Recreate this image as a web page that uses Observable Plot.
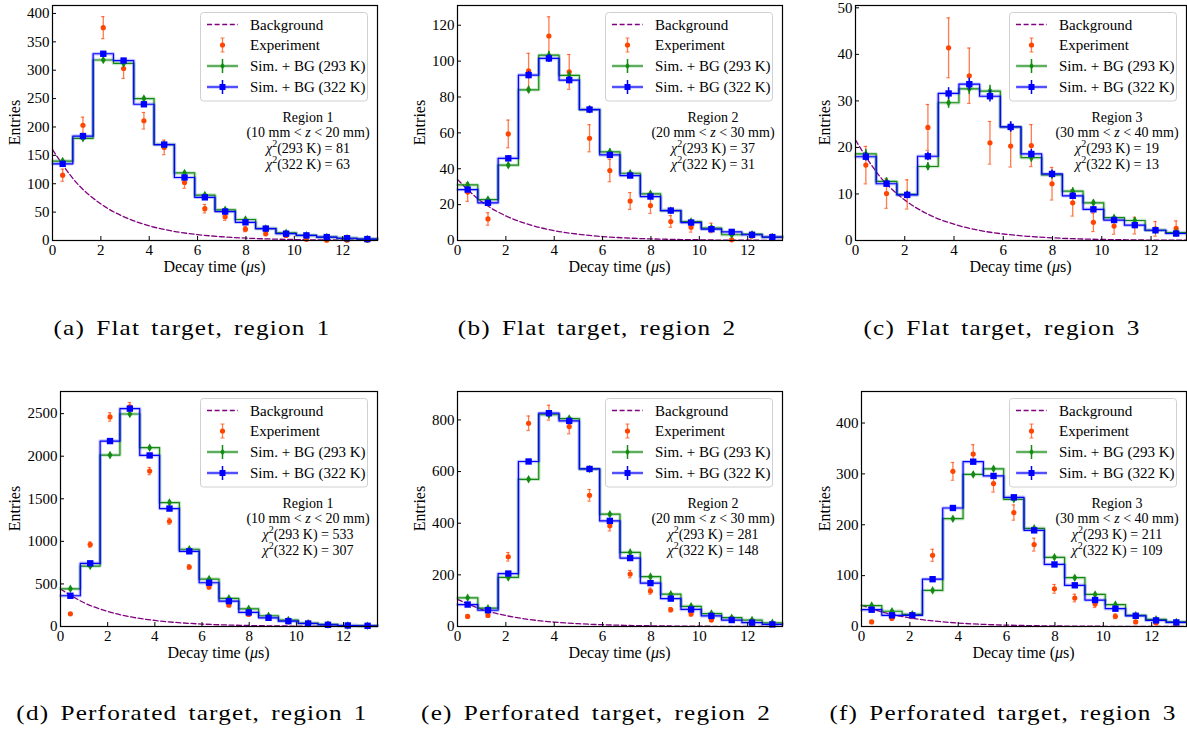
<!DOCTYPE html>
<html><head><meta charset="utf-8">
<script src="https://cdn.jsdelivr.net/npm/d3@7"></script>
<script src="https://cdn.jsdelivr.net/npm/@observablehq/plot@0.6"></script>
<style>
body{margin:0;background:#fff;overflow:hidden}
#wrap{position:relative;width:1187px;height:732px;overflow:hidden;background:#fff}
.panel{position:absolute;overflow:visible}
.cap{position:absolute;font-family:"Liberation Serif","DejaVu Serif",serif;font-size:21px;white-space:nowrap;transform:translate(-50%,-50%) scaleX(1.2);line-height:22px;letter-spacing:1px;word-spacing:3px;color:#000}
</style></head><body><div id="wrap"></div>
<script>
// ---------- data ----------
const binCenters = [0.42,1.26,2.10,2.94,3.78,4.62,5.46,6.30,7.14,7.98,8.82,9.66,10.50,11.34,12.18,13.02];
const binWidth = 0.84;
const xMax = 13.44;
const xTicks = [0,2,4,6,8,10,12];
const bgTimes = [0,1,2,3,4,5,6,7,8,9,10,11,12,13,13.44];

// (a) Flat target, region 1
const expA    = [115,203,375,303,211,164,102,56,42,20,12,9,2,0.5,0.5,0.5];
const sim293A = [140,180,318,312,250,169,119,80,54,37,21,13.5,9,6,4,2.5];
const sim322A = [135,184,329,317,240,169,111,76,51,32,21,12,9,6,4,2.5];
const bgA     = [160,101.5,64.4,40.9,25.9,16.4,10.4,6.6,4.2,2.7,1.7,1.1,0.7,0.4,0.35];
// (b) Flat target, region 2
const expB    = [27,12,59.4,94.6,114,94,57,39,22,19.5,10.6,7.4,7,0.4,2.8,2];
const sim293B = [31,22.8,42,84,103.3,92,73,49.4,37.5,26,16.7,10.6,6.9,3.2,3.5,1.9];
const sim322B = [28.4,21,45.8,92.2,101.5,89.4,73,47.7,36.2,24.5,16.7,10,6.3,4.8,3.2,1.9];
const bgB     = [34,21.6,13.7,8.7,5.5,3.5,2.2,1.4,0.9,0.6,0.4,0.2,0.15,0.1,0.08];
// (c) Flat target, region 3
const expC    = [16.2,10.1,9.9,24.3,41.4,35.4,21,20.3,20.4,12.2,8.1,3.9,3.1,3.2,2.5,2.6];
const sim293C = [18.6,12.7,9.9,15.9,29.6,32.6,32.1,24.4,17.8,14.1,10.6,8.1,4.9,4.3,2.2,1.7];
const sim322C = [18,12.2,9.8,18.1,31.6,33.6,31,24.4,18.6,14.3,9.6,6.7,4.4,3.3,2.2,1.5];
const bgC     = [21.6,13.7,8.7,5.5,3.5,2.2,1.4,0.9,0.57,0.36,0.23,0.15,0.09,0.06,0.05];
// (d) Perforated target, region 1
const expD    = [149,962,2461,2580,1825,1236,699,463,251,141,98,55,39,12,10,6];
const sim293D = [443,710,2013,2496,2100,1456,907,557,330,208,126,75,39,24,12,8];
const sim322D = [361,742,2178,2559,2009,1385,883,514,298,165,102,63,35,20,12,8];
const bgD     = [440,279,177,112,71,45,29,18,11.6,7.4,4.7,3.0,1.9,1.2,1.0];
// (e) Perforated target, region 2
const expE    = [39,43,270,787,828,774,508,390,203,137,65,48,25,31,12,8];
const sim293E = [111,71,190,570,820,805,610,435,287,193,125,78,50,34,25,14];
const sim322E = [85,63,205,639,826,796,610,409,265,168,108,66,41,25,15,8];
const bgE     = [105,66.6,42.3,26.8,17,10.8,6.9,4.3,2.8,1.7,1.1,0.7,0.45,0.3,0.25];
// (f) Perforated target, region 3
const expF    = [9,16,20,140,305,339,281,224,161,74,56,44,20,9,7,4];
const sim293F = [41,30,24,71,212,299,310,250,193,136,96,63,43,22,14,9];
const sim322F = [33,22,22,93,233,324,296,254,189,122,81,52,35,21,12,8];
const bgF     = [42,26.6,16.9,10.7,6.8,4.3,2.7,1.7,1.1,0.7,0.44,0.28,0.18,0.11,0.09];

const yMaxes = [414,131,50.5,2760,910,462];
const yTickSets = [
  [0,50,100,150,200,250,300,350,400],
  [0,20,40,60,80,100,120],
  [0,10,20,30,40,50],
  [0,500,1000,1500,2000,2500],
  [0,200,400,600,800],
  [0,100,200,300,400]
];
const captions = [
  "(a) Flat target, region 1","(b) Flat target, region 2","(c) Flat target, region 3",
  "(d) Perforated target, region 1","(e) Perforated target, region 2","(f) Perforated target, region 3"
];
const regionNames = ["Region 1","Region 2","Region 3","Region 1","Region 2","Region 3"];
const zLow  = [10,20,30,10,20,30];
const zHigh = [20,30,40,20,30,40];
const chi293 = [81,37,19,533,281,211];
const chi322 = [63,31,13,307,148,109];
const legendLabels = ["Background","Experiment","Sim. + BG (293 K)","Sim. + BG (322 K)"];

const expSeries = [expA,expB,expC,expD,expE,expF];
const sim293Series = [sim293A,sim293B,sim293C,sim293D,sim293E,sim293F];
const sim322Series = [sim322A,sim322B,sim322C,sim322D,sim322E,sim322F];
const bgSeries = [bgA,bgB,bgC,bgD,bgE,bgF];

// ---------- layout / style ----------
const FONT = "'Liberation Serif', 'DejaVu Serif', serif";
const cExp = "#ff4500", cG = "#138a13", cB = "#0000ff", cBg = "#800080";
const layout = [
  {left:52, top:5, w:325, h:235, ylab:37},
  {left:457, top:5, w:325, h:235, ylab:37},
  {left:855, top:5, w:331, h:235, ylab:30},
  {left:60, top:391, w:317, h:235, ylab:45},
  {left:457, top:391, w:325, h:235, ylab:37},
  {left:861, top:391, w:325, h:235, ylab:36}
];
const capPos = [{x:191.5,y:328},{x:597,y:328},{x:1002,y:328},{x:192,y:713},{x:596,y:713},{x:1003,y:713}];
const simErrFactor = 0.22;

const wrap = document.getElementById("wrap");

function makePanel(k) {
  const L = layout[k];
  const ml = 60, mt = 6, mr = 14, mb = 52;
  const rows = binCenters.map((t,i) => ({t, exp: expSeries[k][i], s293: sim293Series[k][i], s322: sim322Series[k][i]}));
  const steps = v => binCenters.map((t,i) => ({x: t - binWidth/2, y: v[i]})).concat([{x: binCenters[binCenters.length-1] + binWidth/2, y: v[v.length-1]}]);
  const bgRows = bgTimes.map((t,i) => ({t, v: bgSeries[k][i]}));
  const eE = d => Math.sqrt(d.exp);
  const e2 = d => Math.sqrt(d.s293)*simErrFactor;
  const e3 = d => Math.sqrt(d.s322)*simErrFactor;
  const cap = 0.07;
  const st293 = steps(sim293Series[k]), st322 = steps(sim322Series[k]);
  const fmt = d => String(d);

  const svg = Plot.plot({
    width: ml + L.w + mr, height: mt + L.h + mb,
    marginLeft: ml, marginTop: mt, marginRight: mr, marginBottom: mb,
    x: {domain: [0, xMax]},
    y: {domain: [0, yMaxes[k]]},
    style: {fontFamily: FONT, fontSize: "15px", background: "transparent", overflow: "visible", color: "black"},
    marks: [
      Plot.line(bgRows, {x: "t", y: "v", curve: "monotone-x", stroke: cBg, strokeWidth: 1.3, strokeDasharray: "5,2.6"}),
      Plot.line(st293, {x: "x", y: "y", curve: "step-after", stroke: cG, strokeWidth: 3.5, strokeOpacity: 0.22}),
      Plot.line(st293, {x: "x", y: "y", curve: "step-after", stroke: cG, strokeWidth: 1.2}),
      Plot.line(st322, {x: "x", y: "y", curve: "step-after", stroke: cB, strokeWidth: 3.5, strokeOpacity: 0.22}),
      Plot.line(st322, {x: "x", y: "y", curve: "step-after", stroke: cB, strokeWidth: 1.2}),
      // experiment
      Plot.ruleX(rows, {x: "t", y1: d => d.exp - eE(d), y2: d => d.exp + eE(d), stroke: cExp, strokeOpacity: 0.7, strokeWidth: 1.3}),
      Plot.ruleY(rows, {x1: d => d.t - cap, x2: d => d.t + cap, y: d => d.exp + eE(d), stroke: cExp, strokeOpacity: 0.7, strokeWidth: 1.2}),
      Plot.ruleY(rows, {x1: d => d.t - cap, x2: d => d.t + cap, y: d => d.exp - eE(d), stroke: cExp, strokeOpacity: 0.7, strokeWidth: 1.2}),
      Plot.dot(rows, {x: "t", y: "exp", r: 2.6, fill: cExp, stroke: "none"}),
      // sim 293
      Plot.ruleX(rows, {x: "t", y1: d => d.s293 - e2(d), y2: d => d.s293 + e2(d), stroke: cG, strokeWidth: 1.5}),
      Plot.dot(rows, {x: "t", y: "s293", symbol: "diamond", r: 2.6, fill: cG, stroke: "none"}),
      // sim 322
      Plot.ruleX(rows, {x: "t", y1: d => d.s322 - e3(d), y2: d => d.s322 + e3(d), stroke: cB, strokeWidth: 1.5}),
      Plot.dot(rows, {x: "t", y: "s322", symbol: "square", r: 3.6, fill: cB, stroke: "none"}),
      // inward ticks
      Plot.tickX(xTicks, {x: d => d, insetTop: L.h - 4, stroke: "black"}),
      Plot.tickY(yTickSets[k], {y: d => d, insetRight: L.w - 4, stroke: "black"}),
      Plot.frame({stroke: "black", strokeWidth: 1.2}),
      Plot.axisX(xTicks, {tickSize: 0, tickPadding: 4, label: null, fill: "black", tickFormat: fmt}),
      Plot.axisY(yTickSets[k], {tickSize: 0, tickPadding: 3, label: null, fill: "black", tickFormat: fmt})
    ]
  });
  svg.classList.add("panel");
  svg.style.left = (L.left - ml) + "px";
  svg.style.top = (L.top - mt) + "px";

  const s = d3.select(svg);
  const R = ml + L.w, T = mt, B = mt + L.h, X0 = ml;
  const g = s.append("g").attr("font-family", FONT).attr("fill", "black").attr("text-anchor", "start");

  // axis labels
  const xl = g.append("text").attr("x", X0 + L.w/2).attr("y", B + 32).attr("text-anchor", "middle").attr("font-size", 16);
  xl.append("tspan").text("Decay time (");
  xl.append("tspan").attr("font-style", "italic").text("\u03bc");
  xl.append("tspan").text("s)");
  g.append("text").attr("transform", `translate(${X0 - L.ylab + 5},${T + L.h/2}) rotate(-90)`).attr("text-anchor", "middle").attr("font-size", 16).text("Entries");

  // legend
  const lg = g.append("g").attr("font-size", 15);
  lg.append("rect").attr("x", R - 176.5).attr("y", T + 7.5).attr("width", 167).attr("height", 88.5).attr("rx", 3)
    .attr("fill", "white").attr("fill-opacity", 0.85).attr("stroke", "#d0d0d0");
  const hx0 = R - 170, hx1 = R - 139, hc = (hx0 + hx1) / 2, tx = R - 127;
  const ry = [T + 19.5, T + 40, T + 61, T + 82];
  lg.append("line").attr("x1", hx0).attr("x2", hx1).attr("y1", ry[0]).attr("y2", ry[0]).attr("stroke", cBg).attr("stroke-width", 1.3).attr("stroke-dasharray", "5,2.6");
  lg.append("line").attr("x1", hc).attr("x2", hc).attr("y1", ry[1] - 7).attr("y2", ry[1] + 7).attr("stroke", cExp).attr("stroke-opacity", 0.7).attr("stroke-width", 1.3);
  lg.append("line").attr("x1", hc - 2).attr("x2", hc + 2).attr("y1", ry[1] - 7).attr("y2", ry[1] - 7).attr("stroke", cExp).attr("stroke-opacity", 0.7);
  lg.append("line").attr("x1", hc - 2).attr("x2", hc + 2).attr("y1", ry[1] + 7).attr("y2", ry[1] + 7).attr("stroke", cExp).attr("stroke-opacity", 0.7);
  lg.append("circle").attr("cx", hc).attr("cy", ry[1]).attr("r", 2.6).attr("fill", cExp);
  [[ry[2], cG, "diamond"], [ry[3], cB, "square"]].forEach(([y, c, sym]) => {
    lg.append("line").attr("x1", hx0).attr("x2", hx1).attr("y1", y).attr("y2", y).attr("stroke", c).attr("stroke-opacity", 0.22).attr("stroke-width", 3.5);
    lg.append("line").attr("x1", hx0).attr("x2", hx1).attr("y1", y).attr("y2", y).attr("stroke", c).attr("stroke-width", 1.2);
    lg.append("line").attr("x1", hc).attr("x2", hc).attr("y1", y - 7).attr("y2", y + 7).attr("stroke", c).attr("stroke-width", 1.5);
    if (sym === "square") lg.append("rect").attr("x", hc - 3).attr("y", y - 3).attr("width", 6).attr("height", 6).attr("fill", c);
    else lg.append("path").attr("d", `M${hc},${y-3.5}L${hc+2.2},${y}L${hc},${y+3.5}L${hc-2.2},${y}Z`).attr("fill", c);
  });
  legendLabels.forEach((t, i) => lg.append("text").attr("x", tx).attr("y", ry[i] + 5).attr("text-anchor", "start").text(t));

  // region annotation
  const cx = R - 69;
  const an = g.append("g").attr("font-size", 14).attr("text-anchor", "middle");
  an.append("text").attr("x", cx).attr("y", T + 117).text(regionNames[k]);
  const l2 = an.append("text").attr("x", cx).attr("y", T + 131.5);
  l2.append("tspan").text(`(${zLow[k]} mm < `);
  l2.append("tspan").attr("font-style", "italic").text("z");
  l2.append("tspan").text(` < ${zHigh[k]} mm)`);
  [[chi293[k], "293", 147.5], [chi322[k], "322", 163.5]].forEach(([v, temp, yy]) => {
    const t = an.append("text").attr("x", cx).attr("y", T + yy);
    t.append("tspan").attr("font-style", "italic").text("\u03c7");
    t.append("tspan").attr("font-size", 10).attr("dy", -6).text("2");
    t.append("tspan").attr("dy", 6).text(`(${temp} K) = ${v}`);
  });

  wrap.appendChild(svg);

  const c = document.createElement("div");
  c.className = "cap";
  c.style.left = capPos[k].x + "px";
  c.style.top = capPos[k].y + "px";
  c.textContent = captions[k];
  wrap.appendChild(c);
}

for (let k = 0; k < 6; k++) makePanel(k);
</script>
</body></html>
